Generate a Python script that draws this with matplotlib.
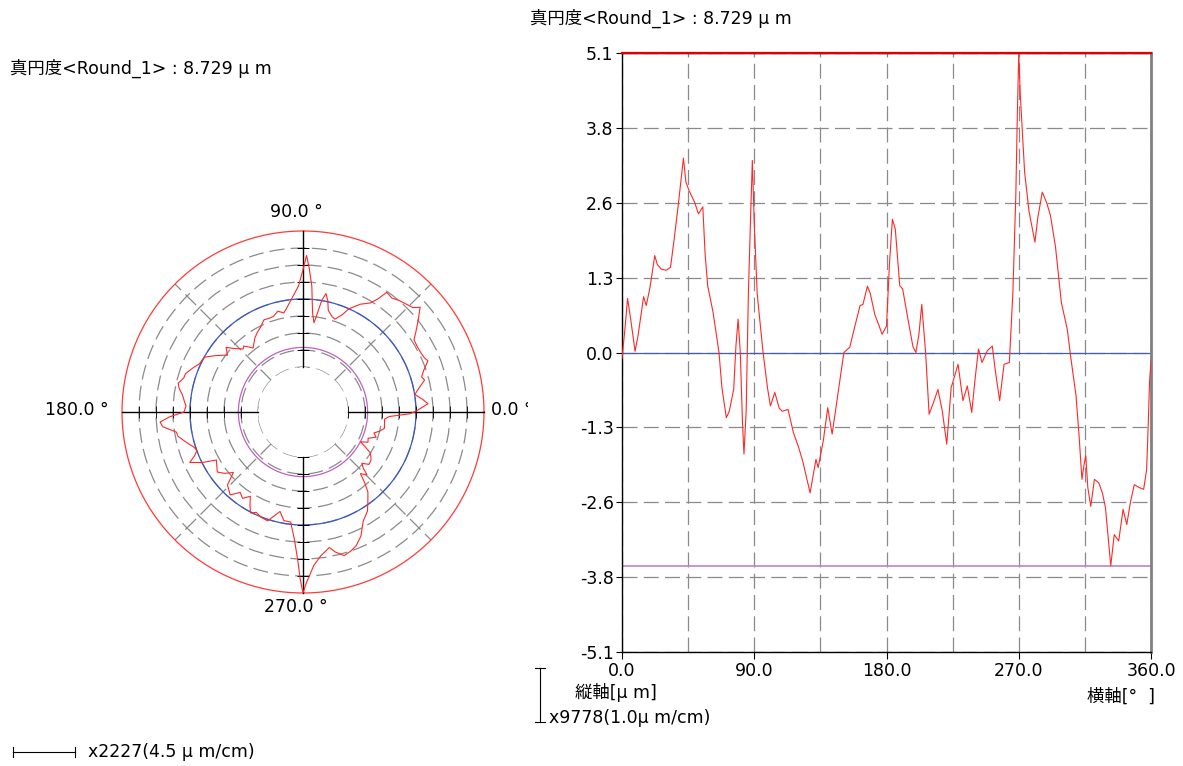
import matplotlib
matplotlib.use('Agg')
import matplotlib.pyplot as plt
import numpy as np
from matplotlib.lines import Line2D
from matplotlib.transforms import Bbox, TransformedBbox

plt.rcParams['font.family'] = ['DejaVu Sans', 'Noto Sans CJK JP']

# roundness profile: angle [deg] and deviation [um]
angle_deg = [0, 2, 3.8, 6, 8.9, 11, 14.7, 16.5, 19, 22.3, 24, 26.6, 30, 33, 35.5, 38.5, 41.8, 43.5,
             45.6, 49.4, 52, 55, 56.5, 58.3, 62, 66, 68, 71, 73, 76, 77.5, 79, 80.5, 82, 83, 84.5, 86,
             87.5, 88.7, 90, 92, 96, 99, 101, 104, 107, 109, 113, 116.6, 120, 123, 128, 130, 132,
             133.5, 137, 140, 143, 147, 151, 155, 158, 162, 164, 167, 169, 172, 175, 177, 180, 182,
             184, 186, 189, 191, 195, 198, 200, 202, 204, 206.6, 209, 212, 215, 218, 221, 224, 228.7,
             232, 235, 238, 240.5, 242.6, 245, 248.6, 252, 254, 257, 260, 263.6, 266, 268, 269, 270,
             271, 274, 277, 281, 283, 286, 289, 291.6, 295, 299, 303, 305.5, 309, 311, 313, 314.5,
             315.6, 317, 319, 321.5, 324.5, 327, 329, 331, 332.6, 335, 338, 341, 343.5, 346, 348.6,
             352, 355, 357, 358, 359, 360]
deviation = [-0.10, 0.40, 0.92, 0.55, 0.02, 0.30, 0.95, 0.80, 1.10, 1.65, 1.50, 1.42, 1.40, 1.45,
             1.93, 2.56, 3.31, 2.90, 2.76, 2.56, 2.36, 2.48, 1.70, 1.14, 0.68, 0.00, -0.60, -1.11,
             -1.00, -0.63, 0.10, 0.57, 0.00, -1.20, -1.73, -1.00, 1.00, 2.30, 3.27, 2.20, 1.00, 0.00,
             -0.60, -0.91, -0.68, -0.95, -1.00, -0.97, -1.36, -1.60, -1.85, -2.39, -2.10, -1.82,
             -1.96, -1.50, -0.94, -1.39, -0.70, 0.00, 0.09, 0.40, 0.80, 0.82, 1.13, 1.00, 0.65, 0.45,
             0.31, 0.45, 1.50, 2.27, 2.10, 1.14, 1.08, 0.51, 0.10, 0.00, 0.30, 0.82, 0.00, -1.05,
             -0.85, -0.63, -1.00, -1.56, -0.60, -0.20, -0.82, -0.57, -1.02, -0.40, 0.06, -0.17, 0.03,
             0.11, -0.30, -0.82, -0.20, -0.17, 1.02, 2.67, 4.00, 5.10, 4.41, 3.07, 2.40, 1.88, 2.30,
             2.73, 2.55, 2.33, 1.80, 0.85, 0.40, -0.10, -0.74, -1.40, -2.16, -1.90, -1.76, -2.30,
             -2.62, -2.16, -2.22, -2.40, -2.64, -3.20, -3.63, -3.10, -3.21, -2.67, -2.93, -2.55,
             -2.25, -2.30, -2.33, -2.00, -1.31, -0.50, -0.14]

peak = 5.1
valley = -3.629
roundness = 8.729
y_ticks = [5.1, 3.825, 2.55, 1.275, 0.0, -1.275, -2.55, -3.825, -5.1]
y_labels = ['5.1', '3.8', '2.6', '1.3', '0.0', '-1.3', '-2.6', '-3.8', '-5.1']
x_ticks = [0, 90, 180, 270, 360]
x_labels = ['0.0', '90.0', '180.0', '270.0', '360.0']
x_minor = [45, 135, 225, 315]
rings = [-5.1, -3.825, -2.55, -1.275, 0.0, 1.275, 2.55, 3.825]
r_origin = -8.475
center_offset = (-0.009, -0.022)

title = '真円度<Round_1> : %.3f μ m' % roundness
grid_kw = dict(color='#8a8a8a', linestyle=(0, (12, 5)), linewidth=0.9)
FS = 12.5
W, H = 1183, 766

fig = plt.figure(figsize=(W / 100, H / 100), dpi=100)


def ftext(x, y, s, **kw):
    return fig.text(x / W, 1 - y / H, s, va='center', fontsize=FS, **kw)


# ---- polar plot
axp = fig.add_axes([122 / W, 1 - 593 / H, 362 / W, 362 / H], projection='polar')
axp.set_rorigin(r_origin)
axp.set_ylim(-5.1, 5.1)
axp.set_yticks(rings)
axp.set_yticklabels([])
axp.set_xticks(np.deg2rad(x_minor))
axp.set_xticklabels([])
axp.grid(True, **grid_kw)
for s in axp.spines.values():
    s.set_edgecolor('none')
full = np.linspace(0, 2 * np.pi, 361)
axp.plot(full, np.full_like(full, peak), color='#ff3a3a', lw=0.9, clip_on=False)
axp.plot(full, np.full_like(full, 0.0), color='#3a58c0', lw=0.9)
axp.plot(full, np.full_like(full, valley), color='#c060c0', lw=0.9)
for th, mk in [(0, '|'), (np.pi, '|'), (np.pi / 2, '_'), (3 * np.pi / 2, '_')]:
    axp.plot([th, th], [-5.1, 5.1], color='black', lw=1, clip_on=False)
    axp.plot([th] * len(rings), rings, linestyle='none', marker=mk, markersize=8,
             markeredgewidth=0.6, color='black')
axp.plot(np.deg2rad(angle_deg), deviation, color='#ff2828', lw=0.8)
axp.plot(0.5 + center_offset[0], 0.5 + center_offset[1], marker='+', markersize=18,
         markeredgewidth=1, color='#ff4040', transform=axp.transAxes)

ftext(270, 212, '90.0 °', ha='left')
ftext(264, 607, '270.0 °', ha='left')
ftext(45, 410, '180.0 °', ha='left')
t0 = ftext(491, 410, '0.0 °', ha='left')
t0.set_clip_on(True)
t0.set_clip_box(TransformedBbox(Bbox([[0, 0], [528 / W, 1]]), fig.transFigure))

ftext(10, 68, title, ha='left')
fig.add_artist(Line2D([13 / W, 75 / W], [1 - 752 / H] * 2, color='black', lw=0.8))
for xx in (13, 75):
    fig.add_artist(Line2D([xx / W] * 2, [1 - 747 / H, 1 - 757 / H], color='black', lw=0.8))
ftext(88, 752, 'x2227(4.5 μ m/cm)', ha='left')

# ---- linear plot
ax = fig.add_axes([622 / W, 1 - 652 / H, 529 / W, 599 / H])
ax.set_xlim(0, 360)
ax.set_ylim(-5.1, 5.1)
ax.set_xticks(x_ticks)
ax.set_xticklabels(x_labels, fontsize=FS)
ax.set_xticks(x_minor, minor=True)
ax.set_yticks(y_ticks)
ax.set_yticklabels(y_labels, fontsize=FS)
ax.grid(True, which='both', **grid_kw)
ax.tick_params(axis='x', which='major', direction='out', length=5, pad=2)
ax.tick_params(axis='x', which='minor', length=0)
ax.tick_params(axis='y', direction='out', length=4, pad=2)
for s in ('left', 'bottom', 'top'):
    ax.spines[s].set_color('black')
    ax.spines[s].set_linewidth(1)
ax.spines['right'].set_color('#808080')
ax.spines['right'].set_linewidth(2)
ax.axhline(peak, color='#e00000', lw=1.6, clip_on=False, zorder=5)
ax.axhline(0.0, color='#4060b0', lw=0.9)
ax.axhline(valley, color='#c080c8', lw=1.2)
ax.plot(angle_deg, deviation, color='#ff2828', lw=0.8, zorder=4)

ftext(530, 18, title, ha='left')
fig.add_artist(Line2D([540 / W] * 2, [1 - 668 / H, 1 - 722 / H], color='black', lw=0.8))
for yy in (668, 722):
    fig.add_artist(Line2D([535 / W, 545 / W], [1 - yy / H] * 2, color='black', lw=0.8))
ftext(575, 692, '縦軸[μ m]', ha='left')
ftext(549, 718, 'x9778(1.0μ m/cm)', ha='left')
ftext(1155, 697, '横軸[°  ]', ha='right')

fig.savefig('out.png', dpi=100)
